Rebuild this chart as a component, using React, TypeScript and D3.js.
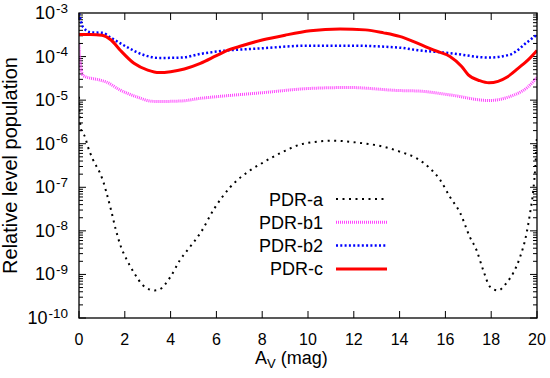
import React, { useEffect, useRef } from 'react';
import * as d3 from 'd3';

// A_V (mag) and relative level population
const avA = [0, 0.05, 0.12, 0.26, 0.39, 0.61, 0.92, 1.05, 1.2, 1.4, 1.6, 1.8, 2.1, 2.4, 2.8, 3.3, 3.5, 4.0, 4.4, 4.85, 5.3, 5.9, 6.6, 7.5, 8.0, 8.9, 9.8, 11.1, 12.1, 13.3, 14.0, 14.75, 15.3, 15.76, 16.2, 16.64, 17.07, 17.36, 17.65, 17.95, 18.3, 18.68, 18.97, 19.26, 19.55, 19.7, 19.84, 19.93, 20];
const popA = [1.2e-5, 3e-6, 1.9e-6, 1.45e-6, 8.5e-7, 4.3e-7, 2.1e-7, 1.4e-7, 7.5e-8, 3e-8, 1.1e-8, 4.8e-9, 2.1e-9, 1.1e-9, 5.6e-10, 4.3e-10, 4.5e-10, 8.9e-10, 2.1e-9, 4.3e-9, 8.9e-9, 3.2e-8, 1e-7, 2.5e-7, 3.6e-7, 6.5e-7, 1e-6, 1.17e-6, 1.07e-6, 8.5e-7, 6.6e-7, 4.6e-7, 2.8e-7, 1.5e-7, 6e-8, 2.6e-8, 7.2e-9, 3.6e-9, 1.26e-9, 5.2e-10, 4.3e-10, 6.5e-10, 1.1e-9, 2.5e-9, 9.1e-9, 2.6e-8, 8.7e-8, 3.2e-7, 1.6e-6];

const avB1 = [0, 0.03, 0.1, 0.2, 0.9, 1.2, 1.8, 2.5, 3.2, 3.5, 4.5, 5.3, 6.0, 8.0, 10.1, 11.8, 14.0, 14.8, 16.2, 17.9, 18.8, 19.6, 20];
const popB1 = [1.9e-4, 1e-4, 4.9e-5, 3.6e-5, 2.9e-5, 2.6e-5, 1.7e-5, 1.2e-5, 9.4e-6, 9.3e-6, 9.6e-6, 1.1e-5, 1.2e-5, 1.48e-5, 1.86e-5, 1.95e-5, 1.66e-5, 1.62e-5, 1.32e-5, 9.8e-6, 1.2e-5, 2.0e-5, 3.3e-5];

const avB2 = [0, 0.17, 0.5, 1.05, 1.35, 2.1, 2.8, 3.5, 4.5, 5.3, 6.0, 8.0, 10.0, 11.8, 14.0, 14.8, 16.2, 17.9, 18.8, 19.6, 20];
const popB2 = [1e-3, 4.8e-4, 3.6e-4, 3.5e-4, 2.8e-4, 1.65e-4, 1.1e-4, 9.3e-5, 9.5e-5, 1.15e-4, 1.3e-4, 1.55e-4, 1.78e-4, 1.78e-4, 1.6e-4, 1.4e-4, 1.2e-4, 9.5e-5, 1.1e-4, 2.2e-4, 3.2e-4];

const avC = [0, 0.5, 1.0, 1.4, 1.8, 2.4, 3.0, 3.5, 4.0, 4.6, 5.3, 6.0, 6.5, 7.0, 8.0, 9.0, 10.1, 11.4, 12.5, 13.3, 14.0, 14.8, 15.5, 16.2, 16.7, 17.0, 17.5, 17.9, 18.3, 18.7, 19.2, 19.6, 20];
const popC = [3.2e-4, 3.2e-4, 3.1e-4, 2.4e-4, 1.4e-4, 7e-5, 4.9e-5, 4.3e-5, 4.5e-5, 5.2e-5, 7e-5, 1.05e-4, 1.4e-4, 1.7e-4, 2.4e-4, 3.1e-4, 3.9e-4, 4.3e-4, 4.1e-4, 3.5e-4, 2.9e-4, 2.0e-4, 1.4e-4, 1.0e-4, 6e-5, 3.8e-5, 2.8e-5, 2.5e-5, 2.7e-5, 3.4e-5, 5.5e-5, 8.3e-5, 1.38e-4];

const seriesNames = ['PDR-a', 'PDR-b1', 'PDR-b2', 'PDR-c'];
const xTicks = [0, 2, 4, 6, 8, 10, 12, 14, 16, 18, 20];
const yExponents = [-3, -4, -5, -6, -7, -8, -9, -10];

const styles = [
  { color: '#000000', width: 2, dash: '2,4.5' },
  { color: '#ff44ff', width: 3, dash: '1,1' },
  { color: '#0000ff', width: 2.5, dash: '2,2.3' },
  { color: '#ff0000', width: 3, dash: null },
];

const W = 550;
const H = 378;
const m = { left: 79, right: 13, top: 13, bottom: 60 };
const FONT = 'Liberation Sans, Arial, Helvetica, sans-serif';

export default function App() {
  const ref = useRef<SVGSVGElement>(null);

  useEffect(() => {
    const svg = d3.select(ref.current);
    svg.selectAll('*').remove();

    const x = d3.scaleLinear().domain([0, 20]).range([m.left, W - m.right]);
    const y = d3.scaleLog().domain([1e-10, 1e-3]).range([H - m.bottom, m.top]);
    const [x0, x1] = x.range();
    const [y0, y1] = y.range();

    svg.append('rect').attr('width', W).attr('height', H).attr('fill', '#fff');

    // ticks
    const tk = svg.append('g').attr('stroke', '#000').attr('stroke-width', 1);
    xTicks.forEach(t => {
      tk.append('line').attr('x1', x(t)).attr('x2', x(t)).attr('y1', y0).attr('y2', y0 - 7);
      tk.append('line').attr('x1', x(t)).attr('x2', x(t)).attr('y1', y1).attr('y2', y1 + 7);
    });
    for (let e = -10; e < -3; e++) {
      for (let k = 1; k < 10; k++) {
        const v = k * Math.pow(10, e);
        const len = k === 1 ? 7 : 4;
        tk.append('line').attr('x1', x0).attr('x2', x0 + len).attr('y1', y(v)).attr('y2', y(v));
        tk.append('line').attr('x1', x1).attr('x2', x1 - len).attr('y1', y(v)).attr('y2', y(v));
      }
    }

    // curves
    const data = [
      avA.map((a, i) => [a, popA[i]]),
      avB1.map((a, i) => [a, popB1[i]]),
      avB2.map((a, i) => [a, popB2[i]]),
      avC.map((a, i) => [a, popC[i]]),
    ];
    const line = d3.line<number[]>()
      .x(d => x(d[0]))
      .y(d => y(d[1]))
      .curve(d3.curveMonotoneX);

    svg.append('clipPath').attr('id', 'clip')
      .append('rect').attr('x', x0).attr('y', y1).attr('width', x1 - x0).attr('height', y0 - y1);

    const plot = svg.append('g').attr('clip-path', 'url(#clip)');
    data.forEach((d, i) => {
      const s = styles[i];
      plot.append('path')
        .datum(d)
        .attr('d', line)
        .attr('fill', 'none')
        .attr('stroke', s.color)
        .attr('stroke-width', s.width)
        .attr('stroke-dasharray', s.dash);
    });

    // frame
    svg.append('rect')
      .attr('x', x0).attr('y', y1).attr('width', x1 - x0).attr('height', y0 - y1)
      .attr('fill', 'none').attr('stroke', '#000').attr('stroke-width', 1.3);

    // x tick labels
    xTicks.forEach(t => {
      svg.append('text')
        .attr('x', x(t)).attr('y', y0 + 27)
        .attr('text-anchor', 'middle')
        .attr('font-family', FONT).attr('font-size', 16)
        .text(t);
    });

    // y tick labels
    yExponents.forEach(e => {
      const t = svg.append('text')
        .attr('x', x0 - 11).attr('y', y(Math.pow(10, e)) + 6)
        .attr('text-anchor', 'end')
        .attr('font-family', FONT).attr('font-size', 18);
      t.append('tspan').text('10');
      t.append('tspan').attr('font-size', 13.5).attr('dy', -6.5).attr('dx', 1).text(String(e));
    });

    // axis titles
    const xt = svg.append('text')
      .attr('x', 255).attr('y', 364)
      .attr('font-family', FONT).attr('font-size', 18);
    xt.append('tspan').text('A');
    xt.append('tspan').attr('font-size', 13).attr('dy', 4).text('V');
    xt.append('tspan').attr('dy', -4).text(' (mag)');

    svg.append('text')
      .attr('transform', `translate(17,${(y0 + y1) / 2}) rotate(-90)`)
      .attr('text-anchor', 'middle')
      .attr('font-family', FONT).attr('font-size', 20)
      .text('Relative level population');

    // legend
    const lg = svg.append('g');
    seriesNames.forEach((n, i) => {
      const cy = 199 + i * 23.3;
      lg.append('text')
        .attr('x', 323).attr('y', cy + 6.5)
        .attr('text-anchor', 'end')
        .attr('font-family', FONT).attr('font-size', 18)
        .text(n);
      const s = styles[i];
      lg.append('line')
        .attr('x1', 336).attr('x2', 387).attr('y1', cy).attr('y2', cy)
        .attr('stroke', s.color).attr('stroke-width', s.width)
        .attr('stroke-dasharray', s.dash);
    });
  }, []);

  return (
    <svg
      ref={ref}
      width={W}
      height={H}
      style={{ position: 'absolute', left: 0, top: 0 }}
    />
  );
}
